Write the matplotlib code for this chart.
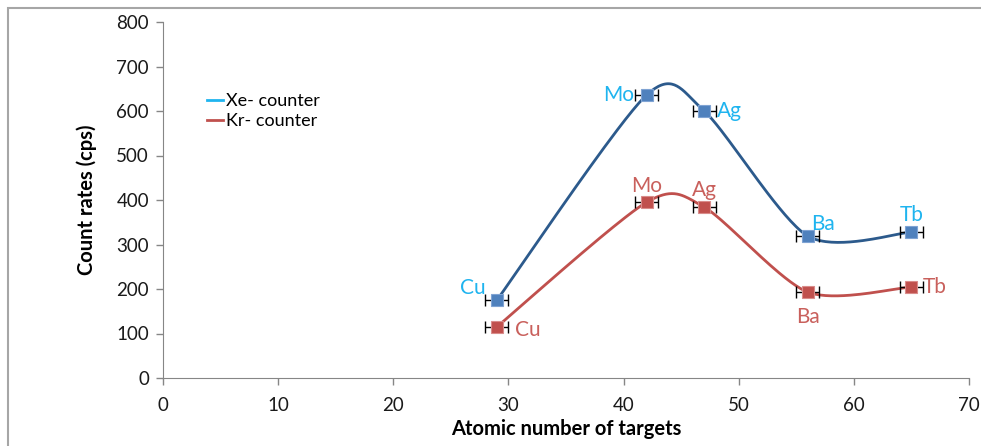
import numpy as np
import matplotlib
matplotlib.use("Agg")
import matplotlib.pyplot as plt
from matplotlib.patches import Rectangle

plt.rcParams['font.family'] = ['Lato', 'DejaVu Sans']

# atomic number of each target
elements = ['Cu', 'Mo', 'Ag', 'Ba', 'Tb']
z = [29, 42, 47, 56, 65]
z_err = [1, 1, 1, 1, 1]

# count rates (cps)
xe_counts = [175, 636, 600, 319, 328]
kr_counts = [115, 395, 384, 193, 205]

# label offsets (points) for each element
xe_offsets = [(-17, 9), (-20, 0), (18, 0), (11, 9), (0, 12)]
kr_offsets = [(22, -2), (0, 12), (0, 12), (0, -18), (17, 0)]


def smooth(x, y, n=40):
    # bezier between points, control points from neighbours (spreadsheet-style smoothed line)
    pts = np.column_stack([x, y]).astype(float)
    out = []
    for i in range(len(pts) - 1):
        p0 = pts[i - 1] if i > 0 else pts[i]
        p1 = pts[i]
        p2 = pts[i + 1]
        p3 = pts[i + 2] if i + 2 < len(pts) else pts[i + 1]
        c1 = p1 + (p2 - p0) / 7.5
        c2 = p2 - (p3 - p1) / 7.5
        t = np.linspace(0, 1, n)[:, None]
        seg = ((1 - t) ** 3) * p1 + 3 * ((1 - t) ** 2) * t * c1 + 3 * (1 - t) * t ** 2 * c2 + t ** 3 * p2
        out.append(seg)
    out = np.vstack(out)
    return out[:, 0], out[:, 1]


fig = plt.figure(figsize=(9.81, 4.46), dpi=100)
ax = fig.add_axes([163 / 981, 68 / 446, 806 / 981, 356 / 446])

# scale y so the curve is smoothed in screen proportions
ys = 806 / 70 / (356 / 800)

xs, yy = smooth(z, np.array(xe_counts) / ys)
ax.plot(xs, yy * ys, color='#2c5a8c', lw=2, zorder=2)
xs, yy = smooth(z, np.array(kr_counts) / ys)
ax.plot(xs, yy * ys, color='#c0504d', lw=2, zorder=2)

ax.errorbar(z, xe_counts, xerr=z_err, fmt='none', ecolor='black', elinewidth=1, capsize=4, zorder=3)
ax.errorbar(z, kr_counts, xerr=z_err, fmt='none', ecolor='black', elinewidth=1, capsize=4, zorder=3)
ax.plot(z, xe_counts, 's', ms=8, color='#4f81bd', mec='#7fa3d3', mew=0.8, ls='none', zorder=4)
ax.plot(z, kr_counts, 's', ms=8, color='#c0504d', mec='#d98c8a', mew=0.8, ls='none', zorder=4)

for name, x, y, off in zip(elements, z, xe_counts, xe_offsets):
    ax.annotate(name, (x, y), xytext=off, textcoords='offset points',
                ha='center', va='center', color='#1fb4ef', fontsize=15)
for name, x, y, off in zip(elements, z, kr_counts, kr_offsets):
    ax.annotate(name, (x, y), xytext=off, textcoords='offset points',
                ha='center', va='center', color='#c9605c', fontsize=15)

# legend
ax.plot([], [], color='#1fb4ef', lw=2, label='Xe- counter')
ax.plot([], [], color='#c0504d', lw=2, label='Kr- counter')
h, l = ax.get_legend_handles_labels()
ax.legend(h[-2:], l[-2:], loc='upper left', bbox_to_anchor=(0.034, 0.845), frameon=False,
          fontsize=13, handlelength=0.9, handletextpad=0.15, labelspacing=0.2)

ax.set_xlim(0, 70)
ax.set_ylim(0, 800)
ax.set_xticks(np.arange(0, 71, 10))
ax.set_yticks(np.arange(0, 801, 100))
for s in ['top', 'right']:
    ax.spines[s].set_visible(False)
for s in ['left', 'bottom']:
    ax.spines[s].set_color('#868686')
ax.tick_params(colors='#868686', labelcolor='#1a1a1a', labelsize=13.5, length=5, width=1)
ax.tick_params(axis='x', pad=9)
ax.tick_params(axis='y', pad=5)
ax.set_xlabel('Atomic number of targets', fontsize=14.5, fontweight='bold', labelpad=3)
ax.set_ylabel('Count rates (cps)', fontsize=14.5, fontweight='bold', labelpad=14)

# outer frame
fig.patches.append(Rectangle((8 / 981, -0.1), 1.2, 1 - 8 / 446 + 0.1, transform=fig.transFigure,
                             fill=False, edgecolor='#a6a6a6', lw=1.5))

fig.savefig('out.png', dpi=100)
